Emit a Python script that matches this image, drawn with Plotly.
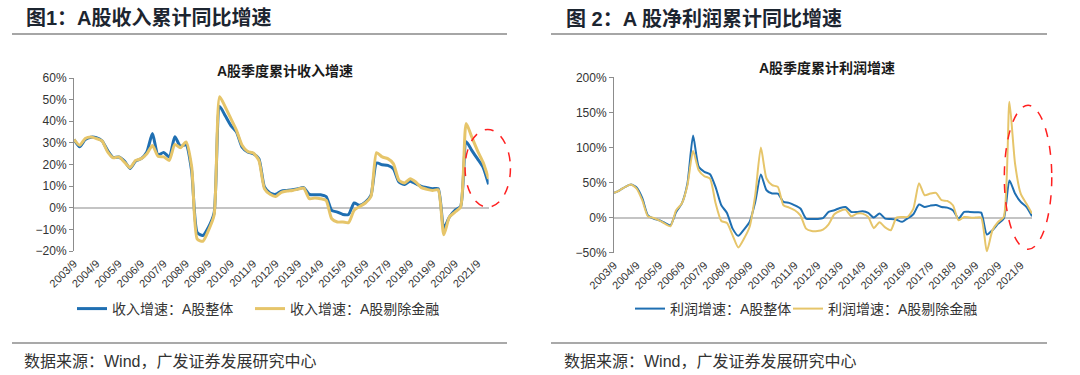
import plotly.graph_objects as go

# ---------------- data ----------------
quarters = []
for y in range(2003, 2023):
    for m in (3, 6, 9, 12):
        if (y == 2003 and m < 9) or (y == 2022 and m > 3):
            continue
        quarters.append(f"{y}/{m}")

tick_labels = [f"{y}/9" for y in range(2003, 2022)]

rev_total = [31.6, 28.2, 31.5, 32.6, 32.4, 31.0, 26.5, 23.2, 23.5, 21.6,
             18.2, 21.6, 22.7, 25.8, 34.3, 24.4, 25.6, 23.5, 32.8, 28.4,
             29.2, 17.0, -11.5, -12.8, -9.0, -2.5, 46.8, 42.5, 38.0, 35.0,
             28.0, 25.8, 25.0, 22.7, 9.6, 6.8, 6.2, 7.7, 8.0, 8.3,
             8.8, 9.3, 6.2, 6.0, 6.0, 5.2, -1.2, -2.0, -3.1, -3.1,
             2.2, 1.1, 2.6, 5.7, 20.7, 19.9, 19.6, 18.0, 11.9, 10.8,
             12.3, 11.1, 9.9, 9.3, 8.8, 8.8, -9.5, -4.3, -1.2, 0.6,
             30.5, 26.5, 22.7, 18.8, 10.8]

rev_exfin = [31.6, 28.9, 32.0, 32.7, 32.0, 30.9, 25.8, 23.1, 23.5, 21.1,
             18.5, 21.9, 22.7, 25.0, 28.8, 23.8, 23.5, 21.9, 29.3, 27.8,
             30.4, 19.0, -14.5, -15.5, -10.5, -3.5, 51.3, 46.6, 41.2, 35.8,
             28.9, 26.0, 25.3, 21.9, 8.8, 6.2, 5.2, 7.1, 7.7, 8.0,
             8.6, 9.1, 4.2, 4.5, 4.2, 3.4, -5.1, -6.6, -6.6, -6.9,
             -1.2, 0.6, 2.2, 5.2, 25.5, 23.5, 22.7, 20.4, 12.7, 11.4,
             13.4, 11.9, 9.3, 8.5, 8.0, 8.3, -12.5, -4.3, -2.0, 0.3,
             39.0, 32.7, 26.5, 21.1, 13.4]

profit_total = [35.2, 39.0, 43.8, 47.1, 43.0, 28.0, 3.3, -1.4, -3.8, -7.6,
                -11.0, 8.1, 20.0, 48.6, 117.0, 72.4, 65.2, 61.9, 43.0, 17.6,
                6.7, -15.7, -26.0, -17.0, -6.2, 22.4, 61.5, 39.0, 34.3, 34.3,
                22.4, 21.0, 17.6, 12.9, -1.4, -1.9, -1.9, -0.8, 8.1, 10.5,
                13.8, 15.2, 8.1, 8.1, 9.0, 6.7, 0.0, 6.0, -1.4, -2.0,
                -3.0, -6.0, -1.0, 4.8, 18.6, 15.2, 17.1, 18.1, 15.2, 14.3,
                10.5, -1.4, 8.1, 8.1, 7.6, 7.1, -24.0, -18.0, -8.6, -1.4,
                53.0, 34.3, 22.4, 15.2, 1.9]

profit_exfin = [35.2, 39.0, 43.8, 47.1, 41.4, 24.8, 1.9, -0.5, -3.8, -8.6,
                -12.4, 10.5, 20.0, 46.2, 95.0, 67.6, 59.0, 55.7, 20.0, -4.8,
                -7.6, -25.2, -42.5, -30.0, -13.3, 31.9, 100.0, 55.7, 46.2, 43.8,
                17.6, 14.3, 10.5, 3.3, -15.7, -19.0, -19.0, -17.0, -9.5, 4.8,
                9.5, 11.4, 1.9, 5.7, 5.7, 1.0, -15.0, -6.5, -14.0, -18.0,
                0.0, 1.0, 1.0, 12.9, 49.0, 31.9, 34.3, 35.2, 24.8, 23.8,
                17.6, -3.8, 1.0, 0.0, 0.0, 0.0, -48.0, -18.0, -6.2, 1.0,
                165.0, 77.0, 34.3, 20.0, 5.7]

# ---------------- style ----------------
W, H = 1080, 375
BLUE = "#1F6FB2"
YELLOW = "#E6C56A"
FONT = "Liberation Sans, Noto Sans CJK SC"
TXT = "#333333"

L_XDOM = [74 / W, 488.6 / W]
L_YDOM = [(H - 251) / H, (H - 78) / H]
L_YR = [-20, 60]
R_XDOM = [614 / W, 1032 / W]
R_YDOM = [(H - 252.7) / H, (H - 77.3) / H]
R_YR = [-50, 200]
XR = [0, len(quarters) - 1]


def px(i, dom):
    return dom[0] + (i - XR[0]) / (XR[1] - XR[0]) * (dom[1] - dom[0])


def py(v, dom, rng):
    return dom[0] + (v - rng[0]) / (rng[1] - rng[0]) * (dom[1] - dom[0])


fig = go.Figure()

fig.add_trace(go.Scatter(x=quarters, y=rev_total, name="收入增速：A股整体",
                         mode="lines", line=dict(color=BLUE, width=3, shape="spline", smoothing=0.6),
                         xaxis="x", yaxis="y", legend="legend"))
fig.add_trace(go.Scatter(x=quarters, y=rev_exfin, name="收入增速：A股剔除金融",
                         mode="lines", line=dict(color=YELLOW, width=3, shape="spline", smoothing=0.6),
                         xaxis="x", yaxis="y", legend="legend2"))
fig.add_trace(go.Scatter(x=quarters, y=profit_total, name="利润增速：A股整体",
                         mode="lines", line=dict(color=BLUE, width=2, shape="spline", smoothing=0.6),
                         xaxis="x2", yaxis="y2", legend="legend3"))
fig.add_trace(go.Scatter(x=quarters, y=profit_exfin, name="利润增速：A股剔除金融",
                         mode="lines", line=dict(color=YELLOW, width=2, shape="spline", smoothing=0.6),
                         xaxis="x2", yaxis="y2", legend="legend4"))

tickidx = [quarters.index(t) for t in tick_labels]

xcommon = dict(type="category", range=XR, tickmode="array", tickvals=tick_labels,
               ticktext=tick_labels, tickangle=-45, showline=False, ticks="",
               showgrid=False, zeroline=False, automargin=False,
               tickfont=dict(family=FONT, size=11, color=TXT), ticklabelstandoff=3)
ycommon = dict(showline=True, linecolor="#8c8c8c", linewidth=1, ticks="outside",
               ticklen=4, tickcolor="#8c8c8c", showgrid=False, zeroline=True,
               zerolinecolor="#c4c4c4", zerolinewidth=1.5, ticksuffix="%", automargin=False,
               tickfont=dict(family=FONT, size=12, color=TXT))
tickaxis = dict(type="linear", range=XR, tickmode="array", tickvals=tickidx[1:],
                ticks="outside", ticklen=4, tickcolor="#8c8c8c", tickwidth=1,
                showticklabels=False, showline=False, showgrid=False, zeroline=False,
                anchor="free", automargin=False)

legfont = dict(family=FONT, size=14, color=TXT)


def leg(xpix):
    return dict(orientation="h", x=xpix / W, y=(H - 309) / H, xanchor="left", yanchor="middle",
                font=legfont, bgcolor="rgba(0,0,0,0)", itemwidth=30)


fig.update_layout(
    width=W, height=H, margin=dict(l=0, r=0, t=0, b=0, pad=0, autoexpand=False),
    paper_bgcolor="white", plot_bgcolor="white",
    font=dict(family=FONT, color=TXT),
    xaxis=dict(domain=L_XDOM, anchor="y", **xcommon),
    yaxis=dict(domain=L_YDOM, range=L_YR, dtick=10, anchor="x", **ycommon),
    xaxis2=dict(domain=R_XDOM, anchor="y2", **xcommon),
    yaxis2=dict(domain=R_YDOM, range=R_YR, dtick=50, anchor="x2", **ycommon),
    xaxis3=dict(domain=L_XDOM, overlaying="x", position=py(0, L_YDOM, L_YR), **tickaxis),
    xaxis4=dict(domain=R_XDOM, overlaying="x2", position=py(0, R_YDOM, R_YR), **tickaxis),
    legend=leg(72), legend2=leg(250), legend3=leg(630), legend4=leg(788),
    showlegend=True,
)

shapes = []
for x0, x1 in ((12, 507), (551, 1047)):
    shapes.append(dict(type="line", xref="paper", yref="paper", x0=x0 / W, x1=x1 / W,
                       y0=(H - 34) / H, y1=(H - 34) / H, line=dict(color="#a6a6a6", width=2)))
    shapes.append(dict(type="line", xref="paper", yref="paper", x0=x0 / W, x1=x1 / W,
                       y0=(H - 343) / H, y1=(H - 343) / H, line=dict(color="#555555", width=1.2)))

# red dashed highlight ellipses (data units -> paper)
ell = [(69.8, 77.9, 0.3, 36.2, L_XDOM, L_YDOM, L_YR),
       (69.1, 77.5, -45.2, 160.0, R_XDOM, R_YDOM, R_YR)]
for i0, i1, v0, v1, xd, yd, yr in ell:
    shapes.append(dict(type="circle", xref="paper", yref="paper",
                       x0=px(i0, xd), x1=px(i1, xd), y0=py(v0, yd, yr), y1=py(v1, yd, yr),
                       line=dict(color="#FF2020", width=1.5, dash="dash")))
fig.update_layout(shapes=shapes)

ann = []
ann.append(dict(text="<b>图1：A股收入累计同比增速</b>", x=24 / W, y=(H - 18) / H, xref="paper", yref="paper",
                xanchor="left", yanchor="middle", showarrow=False,
                font=dict(family=FONT, size=20, color="#1c2530")))
ann.append(dict(text="<b>图 2：A 股净利润累计同比增速</b>", x=564 / W, y=(H - 18) / H, xref="paper", yref="paper",
                xanchor="left", yanchor="middle", showarrow=False,
                font=dict(family=FONT, size=20, color="#1c2530")))
ann.append(dict(text="<b>A股季度累计收入增速</b>", x=285 / W, y=(H - 71) / H, xref="paper", yref="paper",
                xanchor="center", yanchor="middle", showarrow=False,
                font=dict(family=FONT, size=14, color="#1a1a1a")))
ann.append(dict(text="<b>A股季度累计利润增速</b>", x=827 / W, y=(H - 68) / H, xref="paper", yref="paper",
                xanchor="center", yanchor="middle", showarrow=False,
                font=dict(family=FONT, size=14, color="#1a1a1a")))
for x0 in (22, 562):
    ann.append(dict(text="数据来源：Wind，广发证券发展研究中心", x=x0 / W, y=(H - 361) / H,
                    xref="paper", yref="paper", xanchor="left", yanchor="middle", showarrow=False,
                    font=dict(family=FONT, size=16, color=TXT)))
fig.update_layout(annotations=ann)

fig.write_html("out.html", config={"displayModeBar": False},
               post_script="document.body.style.margin='0';document.body.style.overflow='hidden';")
